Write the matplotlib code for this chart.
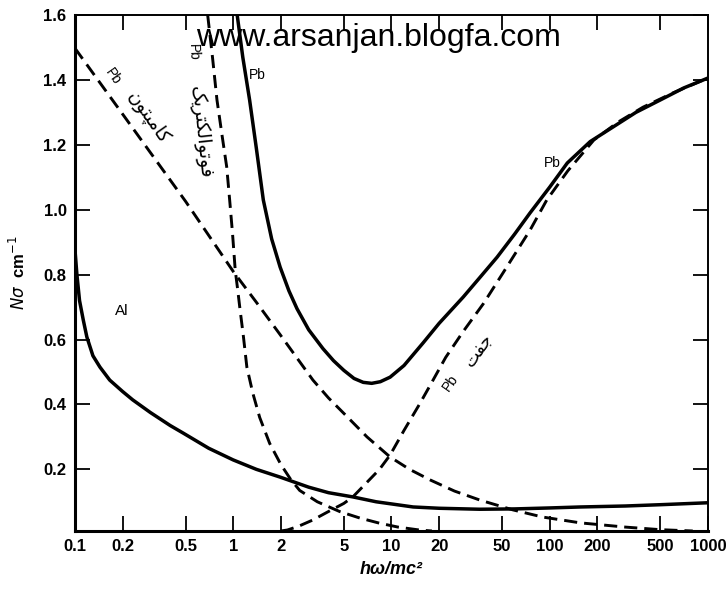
import numpy as np
import matplotlib
matplotlib.use("Agg")
import matplotlib.pyplot as plt
from matplotlib.ticker import FixedLocator, NullLocator, FixedFormatter

# data (x: h*omega/mc^2, y: N*sigma in cm^-1)
al_x = [0.1, 0.103, 0.107, 0.113, 0.119, 0.13, 0.144, 0.166, 0.2, 0.232, 0.3, 0.4, 0.482, 0.7, 1.0,
        1.4, 1.98, 3.0, 4.0, 5.7, 8.0, 13.7, 20, 36, 60, 100, 156, 300, 500, 1000]
al_y = [0.88, 0.80, 0.72, 0.66, 0.608, 0.55, 0.515, 0.475, 0.44, 0.414, 0.375, 0.335, 0.312, 0.265, 0.229,
        0.20, 0.176, 0.145, 0.128, 0.115, 0.10, 0.084, 0.08, 0.077, 0.078, 0.081, 0.084, 0.087, 0.091, 0.097]

pb_x = [1.06, 1.15, 1.27, 1.4, 1.55, 1.75, 1.98, 2.25, 2.53, 3.0, 3.69, 4.3, 5.0, 5.8, 6.63, 7.5, 8.5, 9.8,
        12, 15.8, 20, 28.4, 36, 46.5, 60, 75, 100, 129, 180, 251, 350, 498, 700, 1000]
pb_y = [1.6, 1.47, 1.338, 1.19, 1.03, 0.91, 0.823, 0.75, 0.695, 0.63, 0.572, 0.535, 0.505, 0.48, 0.468, 0.465, 0.47, 0.484,
        0.52, 0.589, 0.65, 0.731, 0.79, 0.854, 0.925, 0.99, 1.07, 1.144, 1.21, 1.255, 1.30, 1.338, 1.375, 1.406]

compton_x = [0.1, 0.2, 0.5, 1.0, 1.4, 1.98, 2.6, 3.19, 4.0, 5.2, 7.0, 9.8, 13, 17.6, 25, 36.3, 58.5, 90, 156, 300, 500, 800]
compton_y = [1.498, 1.295, 1.026, 0.81, 0.715, 0.615, 0.535, 0.475, 0.42, 0.364, 0.30, 0.238, 0.20, 0.167, 0.133, 0.105, 0.075, 0.053, 0.035, 0.022, 0.014, 0.01]

photo_x = [0.69, 0.74, 0.79, 0.85, 0.91, 0.95, 0.99, 1.03, 1.07, 1.1, 1.16, 1.22, 1.33, 1.47, 1.7, 2.0, 2.3, 2.63,
           3.4, 4.7, 6.3, 8.4, 11, 15, 18]
photo_y = [1.6, 1.47, 1.338, 1.23, 1.132, 1.03, 0.928, 0.814, 0.75, 0.70, 0.61, 0.515, 0.435, 0.36, 0.28, 0.215, 0.17, 0.135,
           0.10, 0.07, 0.05, 0.034, 0.022, 0.013, 0.01]

pair_x = [2.0, 2.2, 2.6, 3.19, 4.0, 5.0, 5.7, 7.0, 8.4, 9.8, 12, 15, 17.6, 22, 28.4, 38, 50.6, 75, 95.7, 130, 190, 270, 388, 600, 1000]
pair_y = [0.01, 0.013, 0.025, 0.044, 0.07, 0.095, 0.115, 0.16, 0.20, 0.244, 0.32, 0.40, 0.46, 0.545, 0.625, 0.71, 0.805, 0.937, 1.03, 1.12, 1.215, 1.27, 1.316, 1.36, 1.406]

xticks = [0.1, 0.2, 0.5, 1, 2, 5, 10, 20, 50, 100, 200, 500, 1000]
xticklabels = ["0.1", "0.2", "0.5", "1", "2", "5", "10", "20", "50", "100", "200", "500", "1000"]
yticks = [0.2, 0.4, 0.6, 0.8, 1.0, 1.2, 1.4, 1.6]

# persian words, pre-shaped (presentation forms) and in visual order
compton_fa = "\uFEE5\uFEEE\uFE98\uFB59\uFEE3\uFE8E\uFB90"
photo_fa = "\uFB8F\uFBFE\uFEAE\uFE98\uFB91\uFEDF\uFE8D\uFEEE\uFE97\uFEEE\uFED3"
pair_fa = "\uFE96\uFED4\uFE9F"

plt.rcParams['font.family'] = ['Liberation Sans', 'DejaVu Sans']

fig = plt.figure(figsize=(7.27, 5.89), dpi=100)
ax = fig.add_axes([0.103, 0.0985, 0.871, 0.876])

solid = dict(color="black", lw=2.5, solid_joinstyle="round")
dashed = dict(color="black", lw=2.1, linestyle=(0, (4.5, 2.4)))

ax.plot(al_x, al_y, **solid)
ax.plot(pb_x, pb_y, **solid)
ax.plot(compton_x, compton_y, **dashed)
ax.plot(photo_x, photo_y, **dashed)
ax.plot(pair_x, pair_y, **dashed)

ax.set_xscale("log")
ax.set_xlim(0.1, 1000)
ax.set_ylim(0.01, 1.6)
ax.xaxis.set_major_locator(FixedLocator(xticks))
ax.xaxis.set_major_formatter(FixedFormatter(xticklabels))
ax.xaxis.set_minor_locator(NullLocator())
ax.set_yticks(yticks)
ax.set_yticklabels(["%.1f" % v for v in yticks])

ax.tick_params(direction="in", length=11, width=1.3, top=True, right=True,
               labelsize=12, pad=6)
for lab in ax.get_xticklabels() + ax.get_yticklabels():
    lab.set_fontweight("bold")

for side in ["left", "bottom"]:
    ax.spines[side].set_linewidth(2.2)
for side in ["top", "right"]:
    ax.spines[side].set_linewidth(1.4)

ax.set_xlabel("hω/mc²", fontsize=13, fontweight="bold", fontstyle="italic", labelpad=5)
ax.set_ylabel(r"$N\sigma$  cm$^{-1}$", fontsize=12, fontweight="bold", labelpad=11)

# curve labels
ax.text(1.43, 1.415, "Pb", fontsize=10, ha="center", va="center")
ax.text(104, 1.144, "Pb", fontsize=10, ha="center", va="center")
ax.text(0.198, 0.687, "Al", fontsize=11, ha="center", va="center")

ax.text(0.174, 1.409, "Pb", fontsize=10, rotation=-55, ha="center", va="center")
ax.text(0.289, 1.283, compton_fa, fontsize=13.5, rotation=-55,
        ha="center", va="center", family=["DejaVu Sans"])
ax.text(0.557, 1.486, "Pb", fontsize=10, rotation=-88, ha="center", va="center")
ax.text(0.616, 1.239, photo_fa, fontsize=13.5, rotation=-84,
        ha="center", va="center", family=["DejaVu Sans"])
ax.text(23.5, 0.466, "Pb", fontsize=10, rotation=55, ha="center", va="center")
ax.text(35.3, 0.568, pair_fa, fontsize=12.5, rotation=55,
        ha="center", va="center", family=["DejaVu Sans"])

fig.text(0.52, 0.935, "www.arsanjan.blogfa.com", fontsize=23, ha="center", va="center")

fig.savefig("out.png", dpi=100)
